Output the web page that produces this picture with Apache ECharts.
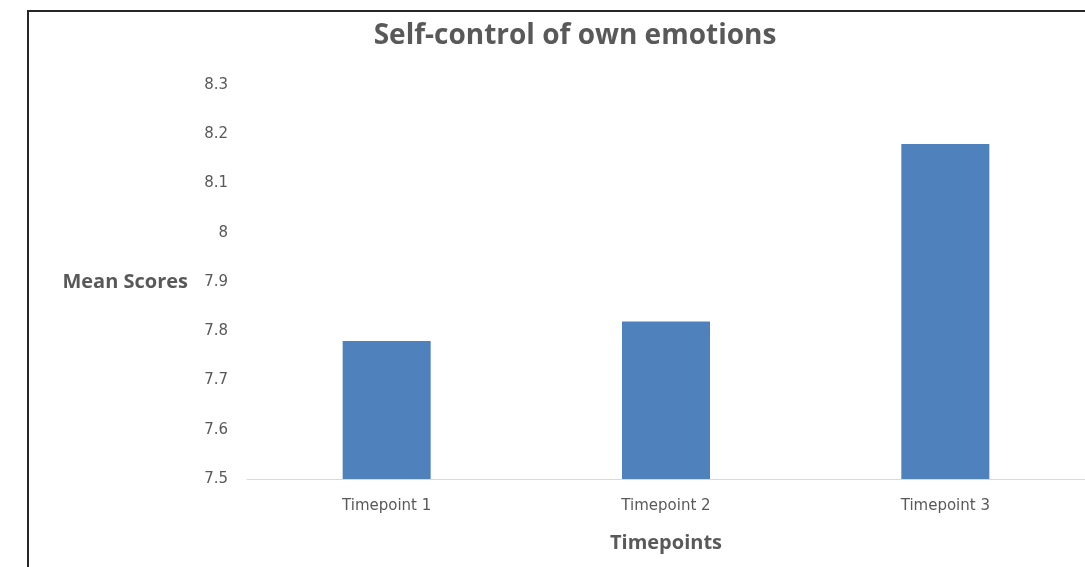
<!DOCTYPE html>
<html>
<head>
<meta charset="utf-8">
<script src="https://cdn.jsdelivr.net/npm/echarts@6/dist/echarts.min.js"></script>
<style>
  html, body { margin: 0; padding: 0; background: #fff; }
  #chart { width: 1085px; height: 567px; }
</style>
</head>
<body>
<div id="chart"></div>
<script>
// values
var categories = ['Timepoint 1', 'Timepoint 2', 'Timepoint 3']
var meanScores = [7.78, 7.82, 8.18]
var yMin = 7.5
var yMax = 8.3
var yStep = 0.1

var chart = echarts.init(document.getElementById('chart'))
var option = {
  animation: false,
  textStyle: { fontFamily: '"Open Sans", sans-serif' },
  title: {
    text: 'Self-control of own emotions',
    left: 570,
    top: 17,
    textAlign: 'center',
    textStyle: { fontSize: 28, fontWeight: 'bold', color: '#595959', fontFamily: '"Open Sans", sans-serif' }
  },
  graphic: [
    {
      // frame around the chart (cut off on the right and bottom)
      type: 'rect',
      shape: { x: 28, y: 11, width: 1200, height: 700 },
      style: { fill: null, stroke: '#262626', lineWidth: 2 },
      silent: true
    }
  ],
  grid: { left: 247, right: -1, top: 85, bottom: 88 },
  xAxis: {
    type: 'category',
    data: categories,
    name: 'Timepoints',
    nameLocation: 'middle',
    nameGap: 54,
    nameTextStyle: { fontSize: 20, fontWeight: 'bold', color: '#595959' },
    axisLine: { lineStyle: { color: '#d9d9d9', width: 1 } },
    axisTick: { show: false },
    axisLabel: { fontSize: 15, color: '#595959', margin: 20, fontFamily: '"DejaVu Sans", sans-serif' }
  },
  yAxis: {
    type: 'value',
    min: yMin,
    max: yMax,
    interval: yStep,
    name: 'Mean Scores',
    nameLocation: 'middle',
    nameRotate: 0,
    nameGap: 59,
    nameTextStyle: { fontSize: 20, fontWeight: 'bold', color: '#595959', align: 'right' },
    axisLine: { show: false },
    axisTick: { show: false },
    splitLine: { show: false },
    axisLabel: { fontSize: 15, color: '#595959', margin: 19, fontFamily: '"DejaVu Sans", sans-serif' }
  },
  series: [
    {
      name: 'Mean Scores',
      type: 'bar',
      data: meanScores,
      barWidth: 88,
      itemStyle: { color: '#4f81bd' }
    }
  ]
}
chart.setOption(option)
</script>
</body>
</html>
